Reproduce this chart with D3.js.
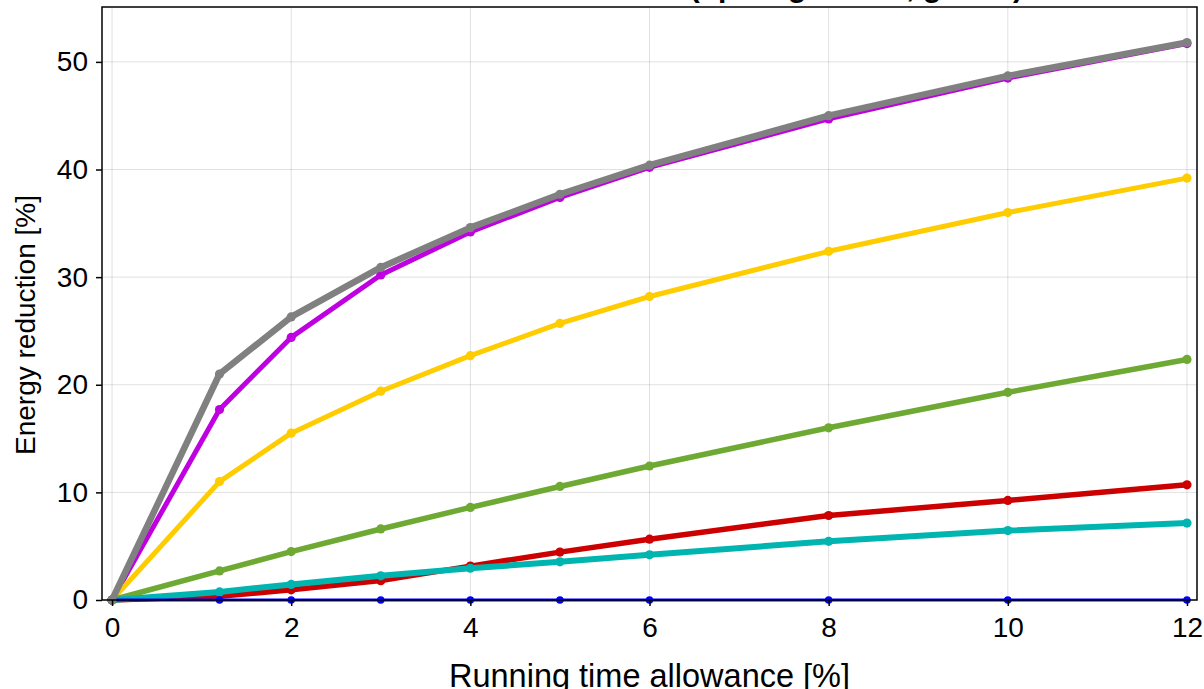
<!DOCTYPE html>
<html>
<head>
<meta charset="utf-8">
<script src="https://cdn.jsdelivr.net/npm/d3@7"></script>
<style>
  html, body { margin: 0; padding: 0; background: #fff; }
  svg { display: block; }
  text { font-family: "Liberation Sans", Arial, sans-serif; fill: #000; }
</style>
</head>
<body>
<svg id="chart" width="1204" height="689"></svg>
<script>
// Running time allowance [%]
const allowance = [0, 1.2, 2, 3, 4, 5, 6, 8, 10, 12];

// Energy reduction [%] per strategy
const seriesGray   = [0, 21.0, 26.3, 30.9, 34.6, 37.7, 40.4, 45.0, 48.7, 51.8];
const seriesPurple = [0, 17.7, 24.4, 30.2, 34.2, 37.4, 40.2, 44.7, 48.5, 51.7];
const seriesYellow = [0, 11.0, 15.5, 19.4, 22.7, 25.7, 28.2, 32.4, 36.0, 39.2];
const seriesGreen  = [0, 2.7, 4.5, 6.6, 8.6, 10.55, 12.45, 16.0, 19.3, 22.35];
const seriesRed    = [0, 0.35, 0.95, 1.8, 3.15, 4.45, 5.65, 7.85, 9.25, 10.7];
const seriesTeal   = [0, 0.75, 1.45, 2.25, 2.95, 3.55, 4.2, 5.45, 6.45, 7.15];
const seriesBlue   = [0, 0, 0, 0, 0, 0, 0, 0, 0, 0];

const xTicks = [0, 2, 4, 6, 8, 10, 12];
const yTicks = [0, 10, 20, 30, 40, 50];

const titleText = "Results on main line section (uphill gradient, goods)";
const xLabel = "Running time allowance [%]";
const yLabel = "Energy reduction [%]";

// drawing order: later series sit on top
const series = [
  { values: seriesPurple, color: "#bf00e0", width: 5 },
  { values: seriesYellow, color: "#ffcc00", width: 5 },
  { values: seriesGreen,  color: "#6eaa33", width: 5.5 },
  { values: seriesRed,    color: "#cc0000", width: 5.5 },
  { values: seriesTeal,   color: "#00b5b0", width: 6 },
  { values: seriesBlue,   color: "#0000ff", width: 3 },
  { values: seriesGray,   color: "#808080", width: 6.5 }
];

const svg = d3.select("#chart");
const L = 102, R = 1197, T = 7, B = 600;

const x = d3.scaleLinear().domain([-0.112, 12.112]).range([L, R]);
const y = d3.scaleLinear().domain([0, 55.1]).range([B, T]);

// grid
const grid = svg.append("g");
grid.selectAll(".gx").data(xTicks).join("line")
  .attr("x1", d => x(d)).attr("x2", d => x(d))
  .attr("y1", T).attr("y2", B)
  .attr("stroke", "#000").attr("stroke-opacity", 0.12).attr("stroke-width", 1);
grid.selectAll(".gy").data(yTicks).join("line")
  .attr("x1", L).attr("x2", R)
  .attr("y1", d => y(d)).attr("y2", d => y(d))
  .attr("stroke", "#000").attr("stroke-opacity", 0.12).attr("stroke-width", 1);

// series
const line = d3.line().x((d, i) => x(allowance[i])).y(d => y(d));
const plot = svg.append("g");
series.forEach(s => {
  plot.append("path")
    .attr("d", line(s.values))
    .attr("fill", "none")
    .attr("stroke", s.color)
    .attr("stroke-width", s.width)
    .attr("stroke-linejoin", "round");
  plot.selectAll(null).data(s.values).join("circle")
    .attr("cx", (d, i) => x(allowance[i]))
    .attr("cy", d => y(d))
    .attr("r", s.width > 3 ? 4.6 : 3.8)
    .attr("fill", s.color);
});

// frame
svg.append("rect")
  .attr("x", L).attr("y", T).attr("width", R - L).attr("height", B - T)
  .attr("fill", "none").attr("stroke", "#000").attr("stroke-width", 1.5);

// axes
const xAxis = d3.axisBottom(x).tickValues(xTicks).tickSize(6).tickPadding(11)
  .tickFormat(d3.format("d"));
const gx = svg.append("g").attr("transform", `translate(0,${B})`).call(xAxis);
gx.select(".domain").remove();
gx.selectAll(".tick line").attr("stroke", "#000").attr("stroke-width", 1.5);
gx.selectAll(".tick text").attr("font-size", 28).attr("font-family", "Liberation Sans, Arial, sans-serif").attr("fill", "#000");

const yAxis = d3.axisLeft(y).tickValues(yTicks).tickSize(6).tickPadding(8)
  .tickFormat(d3.format("d"));
const gy = svg.append("g").attr("transform", `translate(${L},0)`).call(yAxis);
gy.select(".domain").remove();
gy.selectAll(".tick line").attr("stroke", "#000").attr("stroke-width", 1.5);
gy.selectAll(".tick text").attr("font-size", 28).attr("font-family", "Liberation Sans, Arial, sans-serif").attr("fill", "#000");

// labels
svg.append("text")
  .attr("x", (L + R) / 2).attr("y", 687)
  .attr("text-anchor", "middle").attr("font-size", 32.5)
  .text(xLabel);
svg.append("text")
  .attr("transform", `translate(35,325) rotate(-90)`)
  .attr("text-anchor", "middle").attr("font-size", 28)
  .text(yLabel);
svg.append("text")
  .attr("x", 1023).attr("y", -3)
  .attr("text-anchor", "end").attr("font-size", 30).attr("font-weight", "bold")
  .text(titleText);
</script>
</body>
</html>
